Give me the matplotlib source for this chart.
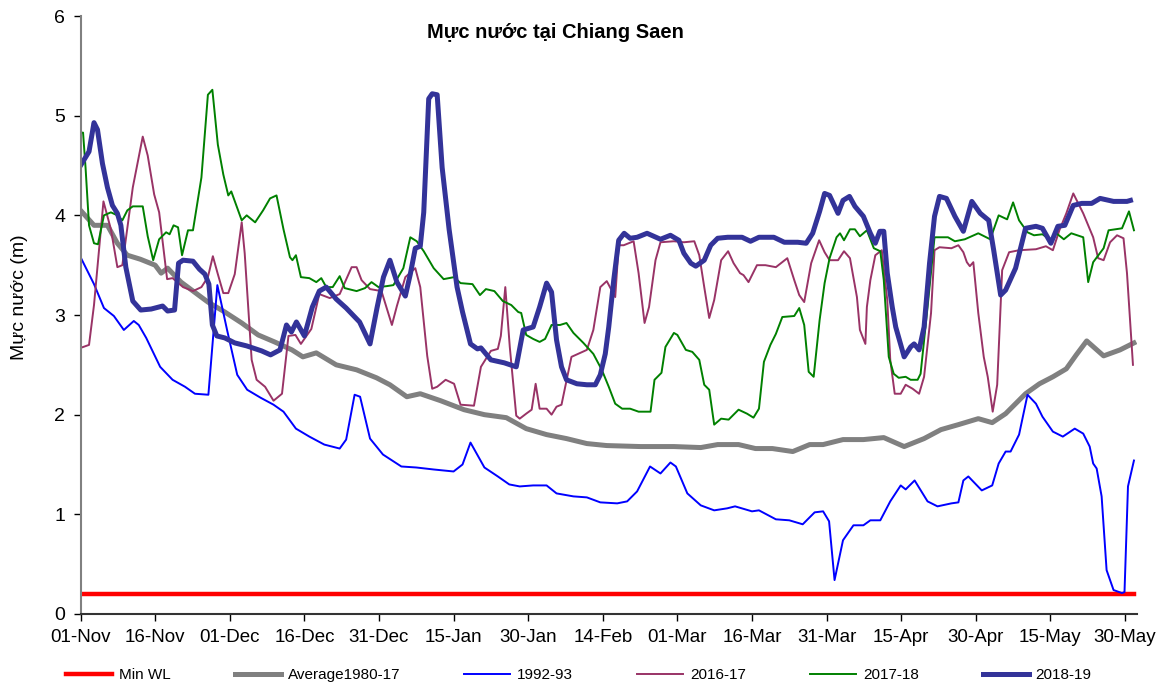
import matplotlib
matplotlib.use("Agg")
import matplotlib.pyplot as plt

# days counted from 01-Nov, water level in metres
MIN_WL = [(0, 0.2), (211.8, 0.2)]

AVG_1980_17 = [
    (0, 4.05), (2.7, 3.9), (5.4, 3.9), (7.4, 3.72), (9.4, 3.6), (12, 3.56), (15, 3.5),
    (16.2, 3.42), (17.5, 3.47), (20.2, 3.33), (22.9, 3.23), (25.6, 3.13), (29, 3.03),
    (32.4, 2.92), (35.7, 2.8), (39, 2.73), (42.5, 2.65), (44.7, 2.58), (47.4, 2.62),
    (51.4, 2.5), (55.5, 2.45), (59.5, 2.37), (62.2, 2.3), (65.6, 2.18), (68.3, 2.21),
    (72.4, 2.14), (77.1, 2.05), (81.2, 2.0), (85.6, 1.97), (89.6, 1.86), (93.7, 1.8),
    (97.7, 1.76), (101.8, 1.71), (105.8, 1.69), (112.6, 1.68), (119.3, 1.68), (124.7, 1.67),
    (128.1, 1.7), (132.3, 1.7), (135.7, 1.66), (139.1, 1.66), (143.2, 1.63), (146.6, 1.7),
    (149.3, 1.7), (153.3, 1.75), (157.4, 1.75), (161.5, 1.77), (165.6, 1.68), (169.6, 1.76),
    (173, 1.85), (176.5, 1.9), (180.5, 1.96), (183.3, 1.92), (186, 2.01), (190, 2.21),
    (192.8, 2.31), (195.5, 2.38), (198.2, 2.46), (200.2, 2.6), (202.3, 2.74), (205.7, 2.59),
    (209, 2.65), (211.8, 2.72),
]

Y1992_93 = [
    (0, 3.58), (1.3, 3.45), (2.7, 3.31), (4.7, 3.07), (6.7, 2.99), (8.7, 2.85), (10.7, 2.94),
    (11.7, 2.9), (13.2, 2.77), (16, 2.48), (18.5, 2.35), (21, 2.28), (23, 2.21), (25.7, 2.2),
    (27.5, 3.3), (29.5, 2.84), (31.5, 2.4), (33.5, 2.25), (36.2, 2.17), (38.8, 2.1),
    (40.8, 2.03), (43.3, 1.86), (46, 1.78), (49, 1.7), (52.1, 1.66), (53.4, 1.75),
    (55.1, 2.2), (56.2, 2.18), (58.2, 1.76), (60.8, 1.6), (64.5, 1.48), (67.5, 1.47),
    (71, 1.45), (75, 1.43), (76.8, 1.5), (78.4, 1.72), (81.2, 1.47), (83.9, 1.38),
    (86.2, 1.3), (88.3, 1.28), (91, 1.29), (93.7, 1.29), (95.7, 1.21), (99.1, 1.18),
    (101.8, 1.17), (104.5, 1.12), (107.9, 1.11), (109.9, 1.13), (111.9, 1.23), (114.5, 1.48),
    (116.6, 1.41), (118.6, 1.52), (119.7, 1.48), (122, 1.21), (124.7, 1.09), (127.4, 1.04),
    (130, 1.06), (131.6, 1.08), (135, 1.03), (136.4, 1.04), (139.8, 0.95), (142.5, 0.94),
    (145.2, 0.9), (147.6, 1.02), (149.3, 1.03), (150.5, 0.93), (151.6, 0.34), (153.3, 0.74),
    (155.4, 0.89), (157.4, 0.89), (158.8, 0.94), (160.8, 0.94), (162.8, 1.13), (164.9, 1.29),
    (165.9, 1.25), (167.7, 1.34), (170.3, 1.13), (172.3, 1.08), (175.1, 1.11), (176.5, 1.12),
    (177.5, 1.34), (178.5, 1.38), (181.2, 1.24), (183.3, 1.29), (184.6, 1.51), (186, 1.63),
    (187, 1.63), (188.7, 1.8), (190.4, 2.2), (192.1, 2.11), (193.4, 1.98), (195.5, 1.83),
    (197.5, 1.78), (199.9, 1.86), (201.6, 1.81), (202.9, 1.68), (203.6, 1.51), (204.3, 1.46),
    (205.3, 1.18), (206.3, 0.44), (207.7, 0.24), (209.4, 0.21), (209.9, 0.22), (210.6, 1.28),
    (211.8, 1.54),
]

Y2016_17 = [
    (0, 2.67), (1.7, 2.7), (2.7, 3.1), (4.6, 4.14), (6.1, 3.86), (7.4, 3.48), (8.4, 3.5),
    (10.5, 4.28), (12.5, 4.79), (13.5, 4.6), (14.8, 4.21), (15.8, 4.03), (17.4, 3.36),
    (18.5, 3.37), (20.6, 3.28), (22.6, 3.24), (24.3, 3.28), (25.6, 3.38), (26.6, 3.59),
    (27.6, 3.41), (28.7, 3.22), (29.7, 3.22), (31, 3.41), (32.4, 3.93), (33, 3.62),
    (34.4, 2.55), (35.4, 2.35), (37.1, 2.28), (38.8, 2.14), (40.5, 2.21), (41.8, 2.79),
    (43.2, 2.8), (44.3, 2.71), (46.4, 2.86), (48, 3.21), (50.1, 3.17), (52.1, 3.21),
    (54.5, 3.48), (55.5, 3.48), (56.5, 3.35), (58.2, 3.26), (60.5, 3.24), (62.6, 2.9),
    (63.6, 3.09), (65.3, 3.38), (67.3, 3.47), (68.3, 3.28), (69.7, 2.59), (70.7, 2.26),
    (71.7, 2.28), (73.4, 2.35), (75.1, 2.31), (76.4, 2.1), (79.1, 2.09), (80.5, 2.48),
    (82.5, 2.64), (83.9, 2.66), (84.5, 2.79), (85.4, 3.28), (86.3, 2.68), (87.6, 1.99),
    (88.3, 1.96), (89.6, 2.01), (90.7, 2.05), (91.5, 2.31), (92.3, 2.06), (93.7, 2.06),
    (94.7, 2.0), (95.7, 2.08), (96.7, 2.1), (98.7, 2.58), (101.8, 2.65), (103.1, 2.85),
    (104.5, 3.28), (105.8, 3.34), (107.5, 3.18), (108.2, 3.7), (109.2, 3.7), (111.2, 3.74),
    (112.2, 3.42), (113.4, 2.92), (114.3, 3.08), (115.6, 3.55), (116.6, 3.73), (119.3, 3.74),
    (121.3, 3.73), (123.4, 3.74), (124.4, 3.6), (125.4, 3.28), (126.4, 2.97), (127.4, 3.15),
    (128.8, 3.55), (130.2, 3.64), (131.3, 3.52), (132.6, 3.42), (133.3, 3.4), (134.3, 3.33),
    (136, 3.5), (137.7, 3.5), (139.8, 3.48), (142.1, 3.57), (143.5, 3.35), (144.5, 3.2),
    (145.5, 3.13), (146.9, 3.52), (148.5, 3.75), (149.6, 3.63), (150.6, 3.55), (152.3, 3.55),
    (153.5, 3.64), (154.7, 3.57), (156.1, 3.18), (156.7, 2.85), (157.8, 2.71), (158.1, 3.08),
    (158.8, 3.35), (159.8, 3.6), (161.1, 3.65), (162.2, 3.15), (162.8, 2.55), (163.7, 2.21),
    (164.9, 2.21), (165.9, 2.3), (167.3, 2.26), (168.6, 2.21), (169.6, 2.38), (171, 3.02),
    (171.7, 3.65), (172.7, 3.68), (175.1, 3.67), (176.5, 3.7), (177.5, 3.63), (178.2, 3.53),
    (178.8, 3.49), (179.5, 3.53), (180.5, 3.02), (181.6, 2.58), (182.4, 2.38), (183.4, 2.03),
    (184.3, 2.3), (185.3, 3.45), (186.7, 3.63), (188.7, 3.65), (192.1, 3.66), (194.1, 3.69),
    (195.5, 3.65), (196.8, 3.85), (198.2, 4.02), (199.6, 4.22), (201.6, 4.02), (203.6, 3.78),
    (204.6, 3.57), (205.7, 3.55), (207, 3.73), (208.4, 3.8), (209.7, 3.77), (210.4, 3.42),
    (211.6, 2.5),
]

Y2017_18 = [
    (0, 4.83), (0.5, 4.83), (1, 4.48), (1.7, 3.9), (2.7, 3.72), (3.5, 3.71), (4.7, 4.0),
    (6.1, 4.03), (7.4, 4.0), (8.4, 3.95), (9.4, 4.05), (10.5, 4.09), (12.5, 4.09),
    (13.5, 3.79), (14.6, 3.55), (15.8, 3.76), (17.2, 3.83), (17.9, 3.81), (18.7, 3.9),
    (19.6, 3.88), (20.4, 3.6), (21.6, 3.85), (22.6, 3.85), (24.3, 4.38), (25.6, 5.21),
    (26.5, 5.26), (27.6, 4.71), (28.7, 4.41), (29.7, 4.2), (30.3, 4.24), (32.4, 3.95),
    (33.4, 4.0), (35.1, 3.93), (36.7, 4.05), (38.1, 4.17), (39.4, 4.2), (40.8, 3.86),
    (42.1, 3.58), (42.6, 3.55), (43.3, 3.6), (44.3, 3.38), (46, 3.37), (47.4, 3.33),
    (48.4, 3.37), (49.4, 3.28), (50.7, 3.28), (52.1, 3.39), (53.1, 3.27), (55.5, 3.24),
    (57.2, 3.27), (58.5, 3.33), (59.9, 3.28), (61.6, 3.29), (62.9, 3.3), (64.9, 3.47),
    (66.3, 3.78), (67.6, 3.74), (69, 3.64), (71, 3.47), (73, 3.36), (75.1, 3.38),
    (76.4, 3.32), (78.8, 3.31), (80.3, 3.2), (81.5, 3.26), (83.2, 3.24), (84.9, 3.14),
    (86.6, 3.1), (88, 3.03), (88.6, 3.02), (89.6, 2.8), (91, 2.76), (92.3, 2.73),
    (93.4, 2.76), (94.7, 2.9), (96.4, 2.9), (97.7, 2.92), (99.1, 2.82), (101.1, 2.72),
    (103.1, 2.61), (104.8, 2.45), (106.2, 2.28), (107.5, 2.11), (108.9, 2.06), (110.5, 2.06),
    (112.2, 2.03), (114.6, 2.03), (115.4, 2.35), (116.8, 2.42), (117.6, 2.68), (119.3, 2.82),
    (120, 2.8), (121.7, 2.65), (123, 2.63), (124.4, 2.55), (125.4, 2.3), (126.4, 2.25),
    (127.4, 1.9), (128.8, 1.96), (130.3, 1.95), (132.3, 2.05), (134, 2.01), (135.3, 1.97),
    (136.4, 2.06), (137.4, 2.53), (138.7, 2.7), (139.8, 2.81), (141.1, 2.98), (143.5, 2.99),
    (144.5, 3.07), (145.5, 2.9), (146.4, 2.43), (147.4, 2.38), (148.6, 2.95), (149.6, 3.32),
    (150.6, 3.57), (152, 3.78), (152.7, 3.82), (153.5, 3.75), (154.7, 3.86), (155.7, 3.86),
    (156.7, 3.79), (158.1, 3.85), (159.5, 3.67), (160.8, 3.64), (161.5, 3.35), (162.5, 2.58),
    (163.5, 2.41), (164.5, 2.37), (165.9, 2.38), (166.9, 2.35), (168.3, 2.35), (168.9, 2.41),
    (170.3, 3.08), (171.7, 3.78), (174.4, 3.78), (175.8, 3.74), (177.8, 3.76), (180.5, 3.82),
    (182.9, 3.76), (184.6, 4.0), (186.3, 3.96), (187.5, 4.13), (188.7, 3.95), (190.4, 3.83),
    (191.7, 3.8), (193.4, 3.81), (195.1, 3.75), (196.2, 3.82), (197.7, 3.76), (199.2, 3.82),
    (201.6, 3.78), (202.6, 3.33), (203.6, 3.53), (205.7, 3.67), (206.7, 3.85), (209.4, 3.87),
    (210.8, 4.04), (211.8, 3.85),
]

Y2018_19 = [
    (0, 4.5), (1.7, 4.64), (2.7, 4.93), (3.4, 4.86), (4.4, 4.52), (5.4, 4.28), (6.4, 4.1),
    (7.4, 4.02), (8.1, 3.9), (9.1, 3.48), (10.5, 3.14), (12.1, 3.05), (14.2, 3.06),
    (16.5, 3.09), (17.5, 3.04), (18.9, 3.05), (19.7, 3.52), (20.6, 3.55), (22.6, 3.54),
    (23.9, 3.46), (25, 3.41), (25.8, 3.31), (26.5, 2.9), (27.4, 2.79), (29, 2.77),
    (31, 2.72), (33.4, 2.69), (36.4, 2.64), (38.2, 2.6), (40.1, 2.65), (41.4, 2.9),
    (42.4, 2.83), (43.4, 2.93), (45, 2.79), (46.6, 3.08), (48, 3.24), (49.4, 3.28),
    (51.4, 3.16), (53.4, 3.07), (56.1, 2.93), (58.2, 2.71), (59.6, 3.07), (60.9, 3.38),
    (62.2, 3.55), (63.6, 3.33), (65.3, 3.19), (66.3, 3.41), (67.3, 3.67), (68.3, 3.69),
    (69, 4.03), (70, 5.17), (70.7, 5.22), (71.7, 5.21), (72.7, 4.48), (74.1, 3.86),
    (75.7, 3.28), (76.8, 3.03), (78.4, 2.71), (79.8, 2.66), (80.5, 2.67), (82.5, 2.55),
    (85.2, 2.52), (87.6, 2.48), (89, 2.85), (91, 2.88), (92.3, 3.08), (93.7, 3.32),
    (94.7, 3.23), (95.7, 2.75), (96.7, 2.48), (97.7, 2.35), (99.8, 2.31), (101.8, 2.3),
    (103.5, 2.3), (104.5, 2.4), (105.5, 2.61), (106.2, 2.88), (107.2, 3.35), (108.2, 3.75),
    (109.3, 3.82), (110.5, 3.77), (111.9, 3.78), (113.9, 3.82), (116.6, 3.76), (118.6, 3.8),
    (120.3, 3.75), (121.3, 3.62), (122.7, 3.52), (123.7, 3.49), (125.4, 3.55), (126.7, 3.7),
    (128.1, 3.77), (130.1, 3.78), (133, 3.78), (134.7, 3.74), (136.4, 3.78), (139.4, 3.78),
    (141.5, 3.73), (144.2, 3.73), (145.9, 3.72), (147.2, 3.82), (148.6, 4.04), (149.6, 4.22),
    (150.6, 4.2), (152.3, 4.02), (153.3, 4.15), (154.6, 4.19), (155.7, 4.09), (157.4, 3.99),
    (158.8, 3.82), (159.8, 3.72), (160.7, 3.84), (161.5, 3.84), (162.2, 3.42), (163.2, 3.08),
    (163.9, 2.88), (165.6, 2.58), (166.9, 2.68), (167.6, 2.71), (168.6, 2.65), (169.6, 2.88),
    (170.7, 3.52), (171.7, 3.99), (172.7, 4.19), (174.1, 4.17), (175.8, 3.99), (177.5, 3.84),
    (179.2, 4.14), (180.9, 4.02), (182.6, 3.95), (183.6, 3.65), (185, 3.2), (186, 3.25),
    (188, 3.47), (190, 3.87), (192.1, 3.89), (193.4, 3.87), (195.1, 3.72), (196.5, 3.89),
    (197.9, 3.9), (199.6, 4.1), (201.3, 4.12), (203.3, 4.12), (205, 4.17), (207.7, 4.14),
    (210.4, 4.14), (211.1, 4.15),
]

TICK_DAYS = list(range(0, 211, 15))
TICK_LABELS = ["01-Nov", "16-Nov", "01-Dec", "16-Dec", "31-Dec", "15-Jan", "30-Jan", "14-Feb",
               "01-Mar", "16-Mar", "31-Mar", "15-Apr", "30-Apr", "15-May", "30-May"]

SERIES = [
    ("Min WL", MIN_WL, "#ff0000", 3.2),
    ("Average1980-17", AVG_1980_17, "#808080", 3.6),
    ("1992-93", Y1992_93, "#0000ff", 1.4),
    ("2016-17", Y2016_17, "#993366", 1.4),
    ("2017-18", Y2017_18, "#008000", 1.4),
    ("2018-19", Y2018_19, "#333399", 3.6),
]

NARROW = ["Liberation Sans Narrow", "Liberation Sans", "DejaVu Sans"]
REGULAR = ["Liberation Sans", "DejaVu Sans"]

fig = plt.figure(figsize=(11.66, 6.97), dpi=100)
ax = fig.add_axes([0.0691, 0.1191, 0.9064, 0.8579])

for name, pts, color, lw in SERIES:
    days, vals = zip(*pts)
    ax.plot(days, vals, color=color, lw=lw, label=name, solid_joinstyle="round")

ax.set_xlim(0, 212.5)
ax.set_ylim(0, 6)
ax.set_xticks(TICK_DAYS)
ax.set_xticklabels(TICK_LABELS, fontfamily=NARROW, fontsize=13.5)
ax.set_yticks(range(7))
ax.set_yticklabels([str(v) for v in range(7)], fontfamily=NARROW, fontsize=14)
ax.tick_params(axis="both", direction="out", length=5, width=1, colors="black", pad=6)

for side in ("top", "right"):
    ax.spines[side].set_visible(False)
ax.spines["left"].set_color("#808080")
ax.spines["left"].set_linewidth(1.5)
ax.spines["bottom"].set_color("#333333")
ax.spines["bottom"].set_linewidth(1.5)

fig.text(555 / 1166, 1 - 33 / 697, "Mực nước tại Chiang Saen", ha="center", va="center",
         fontfamily=REGULAR, fontsize=14.5, fontweight="bold")
fig.text(20 / 1166, 1 - 297 / 697, "Mực nước (m)", ha="center", va="center", rotation=90,
         fontfamily=NARROW, fontsize=14)

fig.legend(loc="center", bbox_to_anchor=(0.4966, 1 - 675 / 697), ncol=6, frameon=False,
           prop={"family": NARROW, "size": 11}, handlelength=3.0, handletextpad=0.45,
           columnspacing=4.2)

fig.savefig("out.png", dpi=100)
